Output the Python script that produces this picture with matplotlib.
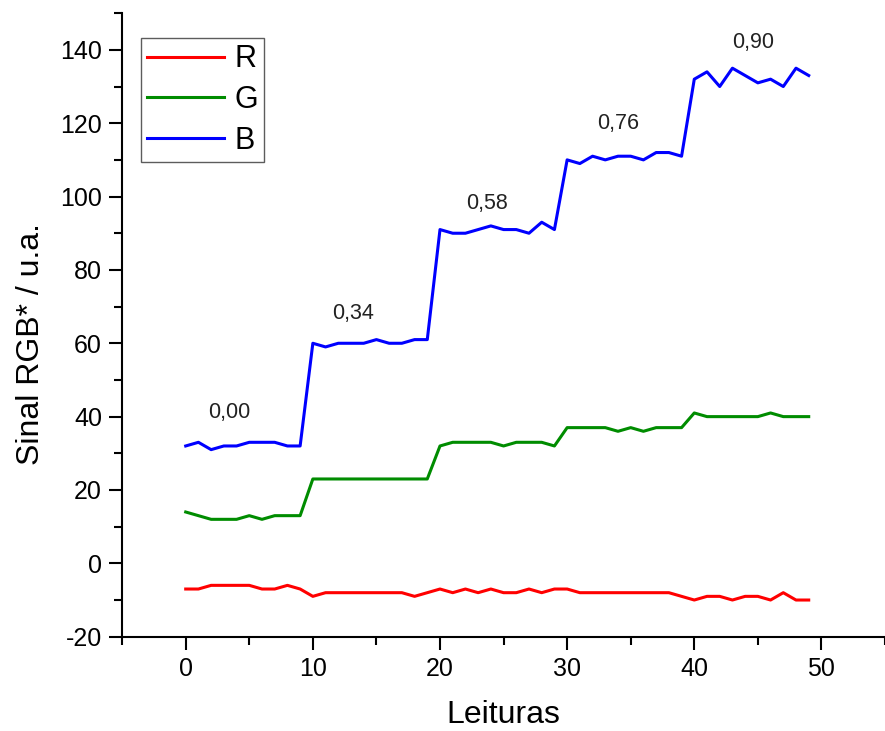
import matplotlib
matplotlib.use("Agg")
import matplotlib.pyplot as plt
from matplotlib.ticker import MultipleLocator

plt.rcParams['font.family'] = ['Liberation Sans', 'DejaVu Sans']
plt.rcParams['axes.unicode_minus'] = False

leituras = list(range(50))

sinal_r = [-7, -7, -6, -6, -6, -6, -7, -7, -6, -7,
           -9, -8, -8, -8, -8, -8, -8, -8, -9, -8,
           -7, -8, -7, -8, -7, -8, -8, -7, -8, -7,
           -7, -8, -8, -8, -8, -8, -8, -8, -8, -9,
           -10, -9, -9, -10, -9, -9, -10, -8, -10, -10]

sinal_g = [14, 13, 12, 12, 12, 13, 12, 13, 13, 13,
           23, 23, 23, 23, 23, 23, 23, 23, 23, 23,
           32, 33, 33, 33, 33, 32, 33, 33, 33, 32,
           37, 37, 37, 37, 36, 37, 36, 37, 37, 37,
           41, 40, 40, 40, 40, 40, 41, 40, 40, 40]

sinal_b = [32, 33, 31, 32, 32, 33, 33, 33, 32, 32,
           60, 59, 60, 60, 60, 61, 60, 60, 61, 61,
           91, 90, 90, 91, 92, 91, 91, 90, 93, 91,
           110, 109, 111, 110, 111, 111, 110, 112, 112, 111,
           132, 134, 130, 135, 133, 131, 132, 130, 135, 133]

rotulos = ["0,00", "0,34", "0,58", "0,76", "0,90"]
rotulo_x = [3.4, 13.2, 23.7, 34.0, 44.6]
rotulo_y = [41, 68, 98, 120, 142]

fig = plt.figure(figsize=(8.85, 7.31), dpi=100)
ax = fig.add_axes([0.138, 0.129, 0.862, 0.853])

ax.plot(leituras, sinal_r, color="#ff0000", lw=2.2, label="R")
ax.plot(leituras, sinal_g, color="#008c00", lw=2.2, label="G")
ax.plot(leituras, sinal_b, color="#0000ff", lw=2.2, label="B")

for txt, xx, yy in zip(rotulos, rotulo_x, rotulo_y):
    ax.text(xx, yy, txt, fontsize=15.5, ha="center", va="center", color="#222222")

ax.set_xlim(-5, 55)
ax.set_ylim(-20, 150)
ax.xaxis.set_major_locator(MultipleLocator(10))
ax.xaxis.set_minor_locator(MultipleLocator(5))
ax.yaxis.set_minor_locator(MultipleLocator(10))
ax.set_yticks(range(-20, 141, 20))

for s in ["top", "right"]:
    ax.spines[s].set_visible(False)
for s in ["left", "bottom"]:
    ax.spines[s].set_linewidth(1.5)

ax.tick_params(which="major", direction="out", length=9.5, width=1.5,
               labelsize=18, pad=5)
ax.tick_params(which="minor", direction="out", length=6, width=1.5)

ax.set_xlabel("Leituras", fontsize=23, labelpad=14)
ax.set_ylabel("Sinal RGB* / u.a.", fontsize=23, labelpad=14)
ax.yaxis.set_label_coords(-0.1, 0.47)

leg = ax.legend(loc="upper left", bbox_to_anchor=(0.025, 0.96), fontsize=22,
                frameon=True, fancybox=False, edgecolor="#333333",
                handlelength=2.5, handletextpad=0.35, borderpad=0.2,
                labelspacing=0.35, borderaxespad=0)
leg.get_frame().set_linewidth(1.0)

fig.savefig("out.png", dpi=100)
